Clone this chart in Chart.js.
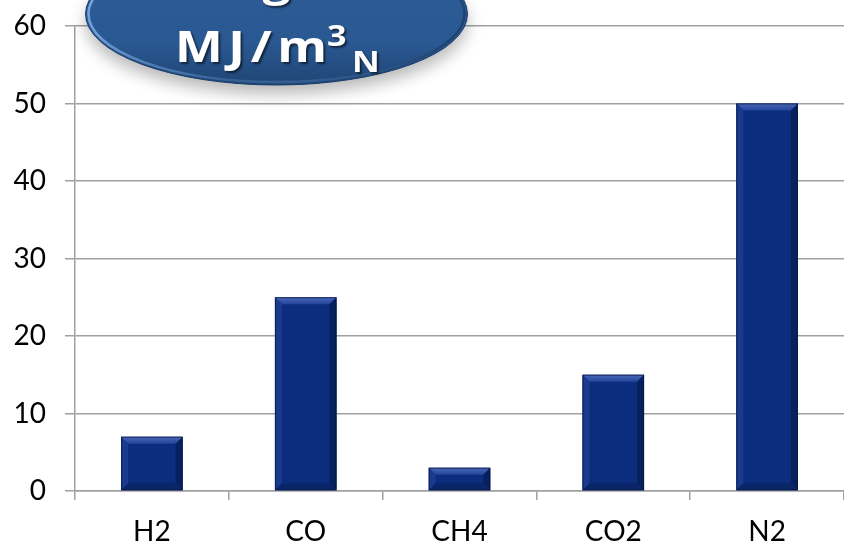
<!DOCTYPE html>
<html>
<head>
<meta charset="utf-8">
<script src="https://cdn.jsdelivr.net/npm/chart.js@4.4.1/dist/chart.umd.min.js"></script>
<style>
  html, body { margin: 0; padding: 0; background: #ffffff; }
  #wrap { width: 844px; height: 543px; position: relative; }
</style>
</head>
<body>
<div id="wrap"><canvas id="c" width="844" height="543"></canvas></div>
<script>
// Gas composition data
const categories = ['H2', 'CO', 'CH4', 'CO2', 'N2'];
const values = [7, 25, 3, 15, 50];
const yTicks = [0, 10, 20, 30, 40, 50, 60];

const BAR = '#0c2c7e';
const BADGE_FONT = '"Open Sans", "DejaVu Sans", sans-serif';

// Bevelled look for each bar: light top/left edges, darker right/bottom edges
const bevelPlugin = {
  id: 'bevel',
  afterDatasetsDraw(chart) {
    const ctx = chart.ctx;
    const meta = chart.getDatasetMeta(0);
    meta.data.forEach(bar => {
      const p = bar.getProps(['x', 'y', 'base', 'width'], true);
      const l = p.x - p.width / 2, r = p.x + p.width / 2;
      const t = p.y, b = p.base;
      const h = b - t;
      const e = Math.min(7, h / 2.5);
      ctx.save();
      ctx.beginPath();
      ctx.moveTo(l, t); ctx.lineTo(r, t); ctx.lineTo(r - e, t + e); ctx.lineTo(l + e, t + e); ctx.closePath();
      const gt = ctx.createLinearGradient(0, t, 0, t + e);
      gt.addColorStop(0, '#4a68b8'); gt.addColorStop(1, '#23449a');
      ctx.fillStyle = gt; ctx.fill();
      ctx.beginPath();
      ctx.moveTo(l, t); ctx.lineTo(l + e, t + e); ctx.lineTo(l + e, b - e); ctx.lineTo(l, b); ctx.closePath();
      ctx.fillStyle = '#1a3a90'; ctx.fill();
      ctx.beginPath();
      ctx.moveTo(r, t); ctx.lineTo(r - e, t + e); ctx.lineTo(r - e, b - e); ctx.lineTo(r, b); ctx.closePath();
      ctx.fillStyle = '#07215f'; ctx.fill();
      ctx.beginPath();
      ctx.moveTo(l, b); ctx.lineTo(l + e, b - e); ctx.lineTo(r - e, b - e); ctx.lineTo(r, b); ctx.closePath();
      ctx.fillStyle = '#0a2568'; ctx.fill();
      ctx.strokeStyle = 'rgba(5,20,60,0.7)';
      ctx.lineWidth = 1;
      ctx.strokeRect(l + 0.5, t + 0.5, p.width - 1, h - 1);
      ctx.restore();
    });
  }
};

// Draw one glyph stretched horizontally
function wideText(ctx, s, x, y, sx) {
  ctx.save();
  ctx.translate(x, y);
  ctx.scale(sx, 1);
  ctx.fillText(s, 0, 0);
  ctx.restore();
}

// Blue oval badge with the unit label
const badgePlugin = {
  id: 'badge',
  afterDraw(chart) {
    const ctx = chart.ctx;
    const cx = 276.5, cy = 14, rx = 191, ry = 71;
    ctx.save();
    ctx.save();
    ctx.shadowColor = 'rgba(0,0,0,0.28)';
    ctx.shadowBlur = 16;
    ctx.shadowOffsetY = 9;
    ctx.beginPath();
    ctx.ellipse(cx, cy, rx, ry, 0, 0, Math.PI * 2);
    ctx.fillStyle = '#1f4a80';
    ctx.fill();
    ctx.restore();
    ctx.beginPath();
    ctx.ellipse(cx, cy, rx, ry, 0, 0, Math.PI * 2);
    const g = ctx.createLinearGradient(0, cy - ry, 0, cy + ry);
    g.addColorStop(0, '#2d5d99');
    g.addColorStop(0.7, '#2a5892');
    g.addColorStop(1, '#1f4675');
    ctx.fillStyle = g;
    ctx.fill();
    ctx.beginPath();
    ctx.ellipse(cx, cy, rx - 3, ry - 3, 0, 0, Math.PI * 2);
    const rg = ctx.createLinearGradient(cx - rx, cy - ry, cx + rx, cy + ry);
    rg.addColorStop(0, 'rgba(140,185,240,0.9)');
    rg.addColorStop(0.45, 'rgba(90,140,200,0.35)');
    rg.addColorStop(1, 'rgba(20,50,90,0.9)');
    ctx.strokeStyle = rg;
    ctx.lineWidth = 2.5;
    ctx.stroke();
    ctx.beginPath();
    ctx.ellipse(cx, cy, rx, ry, 0, 0, Math.PI * 2);
    ctx.strokeStyle = '#1b3f6e';
    ctx.lineWidth = 1;
    ctx.stroke();

    ctx.fillStyle = '#ffffff';
    ctx.shadowColor = 'rgba(0,0,0,0.55)';
    ctx.shadowOffsetX = 2;
    ctx.shadowOffsetY = 2;
    ctx.shadowBlur = 2;
    ctx.textBaseline = 'alphabetic';
    ctx.textAlign = 'left';
    const SX = 1.18;
    // first line sits almost entirely above the top edge
    ctx.font = 'bold 42px ' + BADGE_FONT;
    const w1 = ctx.measureText('Ener').width * SX;
    const wg = ctx.measureText('g').width * SX;
    wideText(ctx, 'Energie', cx - w1 - wg / 2, -4, SX);
    // second line: MJ/m spread evenly, then superscript 3 and subscript N
    ctx.font = 'bold 43px ' + BADGE_FONT;
    const glyphs = ['M', 'J', '/', 'm'];
    const widths = glyphs.map(c => ctx.measureText(c).width * SX);
    const total = widths.reduce((a, b) => a + b, 0);
    const gap = (152 - total) / 3;
    let x = 175;
    glyphs.forEach((c, i) => { wideText(ctx, c, x, 62, SX); x += widths[i] + gap; });
    ctx.font = 'bold 29px ' + BADGE_FONT;
    wideText(ctx, '3', 327, 46, SX);
    wideText(ctx, 'N', 352, 72, SX);
    ctx.restore();
  }
};

function build() {
  new Chart(document.getElementById('c'), {
    type: 'bar',
    data: {
      labels: categories,
      datasets: [{
        data: values,
        backgroundColor: BAR,
        borderWidth: 0,
        categoryPercentage: 1,
        barPercentage: 0.4
      }]
    },
    options: {
      responsive: false,
      animation: false,
      events: [],
      layout: { padding: { top: 26, right: 0, left: 0, bottom: 0 } },
      plugins: { legend: { display: false }, tooltip: { enabled: false }, title: { display: false } },
      scales: {
        x: {
          grid: { display: true, drawOnChartArea: false, drawTicks: true, tickLength: 9, color: '#a0a0a0', lineWidth: 1.5, offset: true },
          border: { display: true, color: '#a0a0a0', width: 1.5 },
          ticks: { color: '#000', font: { family: 'Lato', size: 28 }, padding: 15 },
          afterFit(scale) { scale.height = 52; scale.paddingLeft = 0; scale.paddingRight = 0; }
        },
        y: {
          min: 0, max: 60,
          afterBuildTicks(scale) { scale.ticks = yTicks.map(v => ({ value: v })); },
          grid: { color: '#a0a0a0', lineWidth: 1.5, drawTicks: true, tickLength: 10 },
          border: { display: true, color: '#a0a0a0', width: 1.5 },
          ticks: { color: '#000', font: { family: 'Lato', size: 28 }, padding: 19 },
          afterFit(scale) { scale.width = 75; scale.paddingTop = 0; scale.paddingBottom = 0; }
        }
      }
    },
    plugins: [bevelPlugin, badgePlugin]
  });
}

Promise.all([
  document.fonts.load('bold 43px "Open Sans"'),
  document.fonts.load('28px Lato')
]).then(build, build);
</script>
</body>
</html>
